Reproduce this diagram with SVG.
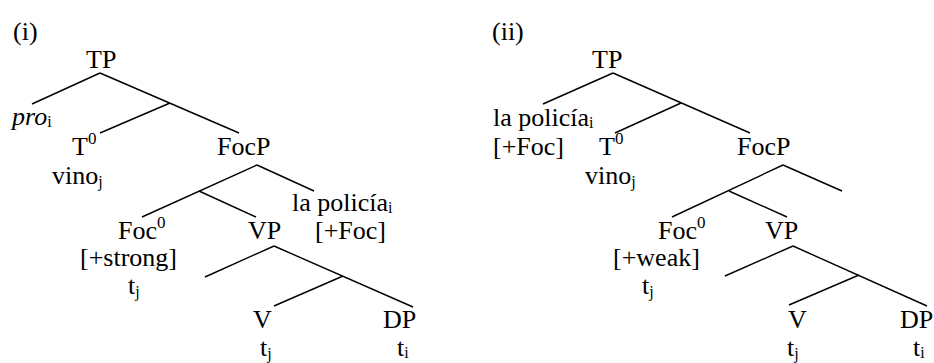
<svg xmlns="http://www.w3.org/2000/svg" width="934" height="363" viewBox="0 0 934 363">
<style>
text{font-family:"Liberation Serif","Times New Roman",serif;font-size:26px;fill:#000}
.sub{font-size:16px}
.sup{font-size:17px}
.it{font-style:italic}
#edges line{stroke:#000;stroke-width:1.4;fill:none}
</style>
<rect width="934" height="363" fill="#fff"/>
<g id="edges">
<line x1="100" y1="73" x2="32" y2="104"/>
<line x1="100" y1="73" x2="239" y2="133"/>
<line x1="170" y1="103" x2="100" y2="133"/>
<line x1="257" y1="165" x2="142" y2="217"/>
<line x1="257" y1="165" x2="314" y2="191"/>
<line x1="199" y1="191" x2="256" y2="217"/>
<line x1="274" y1="246" x2="205" y2="277"/>
<line x1="274" y1="246" x2="413" y2="307"/>
<line x1="343" y1="276" x2="274" y2="306"/>
<line x1="613" y1="73" x2="543" y2="104"/>
<line x1="613" y1="73" x2="750" y2="133"/>
<line x1="681" y1="103" x2="615" y2="133"/>
<line x1="783" y1="165" x2="672" y2="217"/>
<line x1="783" y1="165" x2="842" y2="191"/>
<line x1="729" y1="191" x2="787" y2="217"/>
<line x1="793" y1="246" x2="725" y2="276"/>
<line x1="793" y1="246" x2="927" y2="306"/>
<line x1="859" y1="275" x2="789" y2="305"/>
</g>
<g id="label-i"><text x="13" y="40">(i)</text></g>
<g id="i-TP"><text x="86" y="68">TP</text></g>
<g id="i-pro"><text x="12" y="125"><tspan class="it">pro</tspan><tspan class="sub" dy="2">i</tspan></text></g>
<g id="i-T0"><text x="72" y="155">T<tspan class="sup" dy="-11">0</tspan></text></g>
<g id="i-vino"><text x="52" y="184">vino<tspan class="sub" dy="3">j</tspan></text></g>
<g id="i-FocP"><text x="217" y="155">FocP</text></g>
<g id="i-lapolicia"><text x="292" y="211">la policía<tspan class="sub" dy="2">i</tspan></text><text x="315" y="239">[+Foc]</text></g>
<g id="i-Foc0"><text x="118" y="239">Foc<tspan class="sup" dy="-11">0</tspan></text><text x="80" y="266">[+strong]</text><text x="128" y="294">t<tspan class="sub" dy="3">j</tspan></text></g>
<g id="i-VP"><text x="248" y="239">VP</text></g>
<g id="i-V"><text x="253" y="328">V</text><text x="260" y="356">t<tspan class="sub" dy="3">j</tspan></text></g>
<g id="i-DP"><text x="383" y="328">DP</text><text x="397" y="356">t<tspan class="sub" dy="2">i</tspan></text></g>
<g id="label-ii"><text x="492" y="40">(ii)</text></g>
<g id="ii-TP"><text x="592" y="68">TP</text></g>
<g id="ii-lapolicia"><text x="493" y="126">la policía<tspan class="sub" dy="2">i</tspan></text><text x="493" y="155">[+Foc]</text></g>
<g id="ii-T0"><text x="599" y="155">T<tspan class="sup" dy="-11">0</tspan></text></g>
<g id="ii-vino"><text x="585" y="184">vino<tspan class="sub" dy="3">j</tspan></text></g>
<g id="ii-FocP"><text x="737" y="155">FocP</text></g>
<g id="ii-Foc0"><text x="658" y="239">Foc<tspan class="sup" dy="-11">0</tspan></text><text x="613" y="266">[+weak]</text><text x="642" y="294">t<tspan class="sub" dy="3">j</tspan></text></g>
<g id="ii-VP"><text x="765" y="239">VP</text></g>
<g id="ii-V"><text x="788" y="328">V</text><text x="787" y="356">t<tspan class="sub" dy="3">j</tspan></text></g>
<g id="ii-DP"><text x="900" y="328">DP</text><text x="913" y="356">t<tspan class="sub" dy="2">i</tspan></text></g>
</svg>
